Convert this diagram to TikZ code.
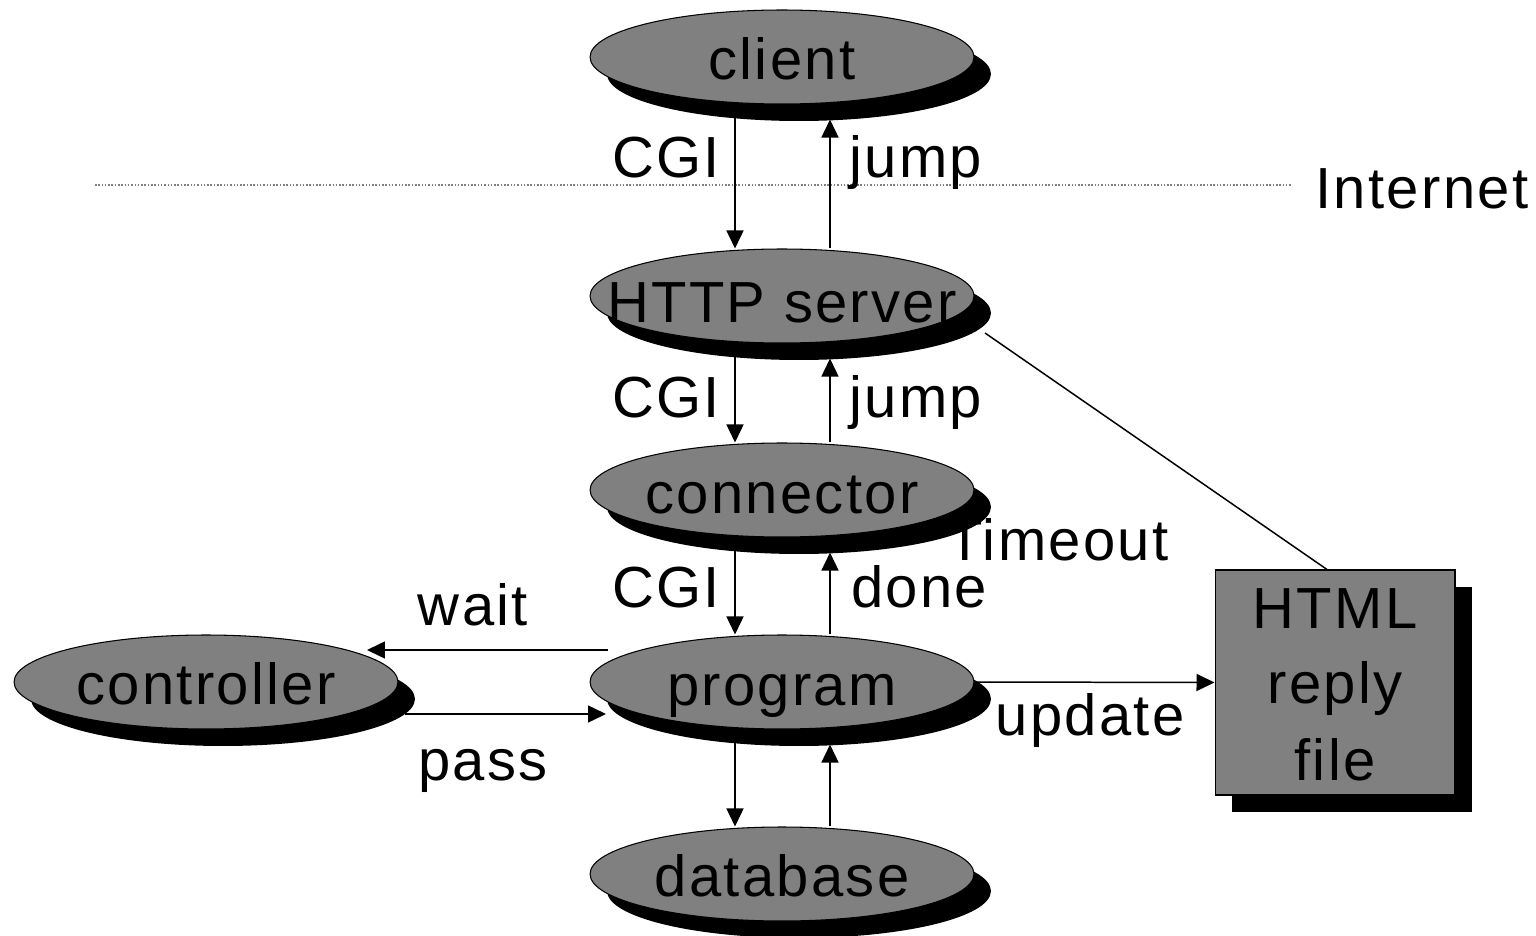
\documentclass[tikz,border=0pt]{standalone}
\usepackage{fontspec}
\setmainfont{Liberation Sans}[LetterSpace=4.0]
\usetikzlibrary{shapes.geometric,arrows.meta,calc}
\definecolor{fillgray}{RGB}{128,128,128}
\begin{document}
\begin{tikzpicture}[x=0.02cm,y=-0.02cm,
  ellbase/.style={ellipse, minimum width=7.68cm, minimum height=1.88cm, inner sep=0pt},
  ell/.style={ellbase, draw=black, line width=0.6pt, fill=fillgray},
  shadell/.style={ellbase, fill=black},
  boxbase/.style={rectangle, minimum width=4.8cm, minimum height=4.5cm, inner sep=0pt},
  boxst/.style={boxbase, draw=black, line width=0.6pt, fill=fillgray},
  shadbox/.style={boxbase, fill=black},
  txt/.style={anchor=base, inner sep=0pt, font=\fontsize{33}{38}\selectfont},
  arr/.style={line width=0.85pt, -{Triangle[length=0.36cm,width=0.34cm]}},
  plain/.style={line width=0.85pt},
  sep/.style={line width=0.6pt, gray, dash pattern=on 0.03cm off 0.036cm}]
\useasboundingbox (0,0) rectangle (1536,936);
% separator line
\coordinate (s1) at (95,185);
\coordinate (s2) at (1292,185);
\draw[sep] (s1) -- (s2);
\node[txt] (internet) at (1422,209) {Internet};
% text under the connector shadow
\node[txt] (timeout) at (1058,560) {Timeout};
% shadows
\node[shadell] (clientS) at (799,74) {};
\node[shadell] (httpS) at (799,313) {};
\node[shadell] (connS) at (799,507) {};
\node[shadell] (progS) at (799,699) {};
\node[shadell] (dbS) at (799,891) {};
\node[shadell] (ctrlS) at (223,699) {};
\node[shadbox] (htmlS) at (1352,699.5) {};
% ellipses
\node[ell] (client) at (782,57) {};
\node[txt] (clientT) at (782,80) {client};
\node[ell] (http) at (782,296) {};
\node[ell] (conn) at (782,490) {};
\node[txt] (connT) at (782,513) {connector};
\node[ell] (prog) at (782,682) {};
\node[txt] (progT) at (782,705) {program};
\node[ell] (db) at (782,874) {};
\node[txt] (dbT) at (782,896) {database};
\node[ell] (ctrl) at (206,682) {};
\node[txt] (ctrlT) at (206,704) {controller};
\node[boxst] (html) at (1335,682.5) {};
\node[txt] (htmlA) at (1335,628) {HTML};
\node[txt] (htmlB) at (1335,703) {reply};
\node[txt] (htmlC) at (1335,780) {file};
% vertical connectors
\coordinate (xa) at (735,0);
\coordinate (xb) at (830,0);
\draw[arr] (client.south -| xa) -- (http.north -| xa);
\draw[arr] (http.north -| xb) -- ($(client.south -| xb)+(0,15)$);
\draw[arr] (http.south -| xa) -- (conn.north -| xa);
\draw[arr] (conn.north -| xb) -- ($(http.south -| xb)+(0,15)$);
\draw[arr] (conn.south -| xa) -- (prog.north -| xa);
\draw[arr] (prog.north -| xb) -- ($(conn.south -| xb)+(0,15)$);
\draw[arr] (prog.south -| xa) -- (db.north -| xa);
\draw[arr] (db.north -| xb) -- ($(prog.south -| xb)+(0,15)$);
\node[txt] (httpT) at (782,322) {HTTP server};
% horizontal connectors
\coordinate (w1) at (608,650);
\coordinate (w2) at (367,650);
\draw[arr] (w1) -- (w2);
\coordinate (p1) at (405,714);
\coordinate (p2) at (606,714);
\draw[arr] (p1) -- (p2);
\draw[arr] (prog.east) -- (html.west);
\coordinate (h1) at (985,333);
\draw[plain] (h1) -- ($(html.north)+(-8,0)$);
% labels
\node[txt] (cgi1) at (666,177) {CGI};
\node[txt] (jump1) at (916,177) {jump};
\node[txt] (cgi2) at (666,417) {CGI};
\node[txt] (jump2) at (916,417) {jump};
\node[txt] (cgi3) at (666,607) {CGI};
\node[txt] (done) at (919,607) {done};
\node[txt] (wait) at (473,625) {wait};
\node[txt] (pass) at (483,780) {pass};
\node[txt] (update) at (1090,735) {update};
\end{tikzpicture}
\end{document}
